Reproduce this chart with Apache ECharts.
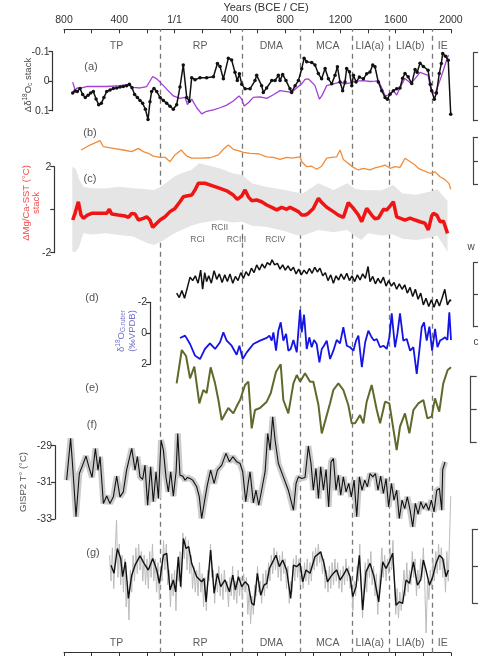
<!DOCTYPE html>
<html>
<head>
<meta charset="utf-8">
<title>Records BCE / CE</title>
<script src="https://cdn.jsdelivr.net/npm/echarts@6/dist/echarts.min.js"></script>
<style>
html, body { margin: 0; padding: 0; background: #fff; }
#chart { width: 478px; height: 656px; }
</style>
</head>
<body>
<div id="chart"></div>
<script>
// periods and their limits (years, negative = BCE)
var periodNames = ['TP', 'RP', 'DMA', 'MCA', 'LIA(a)', 'LIA(b)', 'IE'];
var periodMid = [-420, 185, 700, 1108, 1412, 1705, 1940];
var periodBounds = [-106, 488, 912, 1284, 1552, 1862];

// (a) δ18O stack (black) and model curve (purple)
var d18oStack = [[-737,0.040],[-720,0.033],[-704,0.035],[-684,0.025],[-665,0.045],[-646,0.055],[-626,0.048],[-607,0.040],[-588,0.035],[-568,0.060],[-549,0.080],[-530,0.075],[-511,0.055],[-491,0.035],[-467,0.030],[-443,0.025],[-419,0.023],[-395,0.020],[-371,0.018],[-347,0.015],[-327,0.010],[-308,0.022],[-289,0.045],[-269,0.055],[-250,0.065],[-231,0.075],[-211,0.095],[-192,0.130],[-178,0.070],[-166,0.035],[-149,0.025],[-129,0.035],[-105,0.055],[-81,0.065],[-57,0.075],[-33,0.085],[-9,0.095],[15,0.080],[39,0.020],[63,-0.055],[88,0.055],[107,0.068],[124,-0.012],[148,-0.005],[184,-0.012],[232,-0.012],[281,-0.015],[310,-0.060],[329,-0.050],[353,-0.008],[389,-0.078],[413,-0.072],[437,-0.030],[454,-0.002],[469,-0.025],[486,0.010],[510,0.026],[546,0.026],[582,-0.002],[594,-0.020],[630,0.015],[642,0.038],[666,0.023],[703,-0.002],[727,-0.002],[751,-0.020],[763,-0.002],[782,-0.023],[806,-0.002],[835,0.026],[847,0.038],[872,0.015],[896,-0.002],[920,-0.042],[937,-0.078],[956,-0.066],[992,-0.063],[1016,-0.055],[1040,-0.026],[1064,-0.008],[1089,-0.043],[1113,-0.008],[1137,0.009],[1161,-0.020],[1178,-0.049],[1197,0.003],[1216,0.032],[1233,0.003],[1245,-0.043],[1265,-0.032],[1282,0.015],[1294,-0.020],[1313,0.003],[1337,-0.014],[1366,-0.008],[1390,-0.025],[1414,-0.031],[1434,-0.055],[1450,-0.049],[1474,0.003],[1499,0.032],[1523,0.055],[1540,0.061],[1559,0.044],[1583,0.032],[1607,0.026],[1631,0.023],[1650,-0.010],[1667,-0.026],[1690,-0.015],[1716,0.008],[1740,-0.040],[1755,-0.030],[1776,-0.061],[1800,-0.050],[1834,-0.037],[1850,0.010],[1860,0.032],[1879,0.061],[1895,0.040],[1915,-0.026],[1930,-0.060],[1940,-0.094],[1960,-0.085],[1980,-0.071],[1998,0.112]];
var d18oModel = [[-737,0.003],[-720,0.030],[-704,0.023],[-672,0.023],[-636,0.018],[-588,0.018],[-491,0.018],[-395,0.015],[-347,0.012],[-298,0.021],[-250,0.023],[-202,0.018],[-158,-0.016],[-129,-0.008],[-105,0.003],[-57,0.027],[-9,0.050],[39,0.058],[76,0.055],[93,0.079],[124,0.061],[160,0.090],[196,0.111],[232,0.102],[281,0.097],[329,0.090],[377,0.081],[425,0.067],[466,0.050],[486,0.061],[503,0.084],[534,0.073],[570,0.055],[618,0.053],[667,0.058],[715,0.046],[763,0.032],[811,0.035],[847,0.038],[872,0.027],[896,0.018],[920,0.009],[944,-0.006],[968,-0.008],[992,0.003],[1016,0.015],[1048,0.061],[1065,0.050],[1101,0.015],[1149,0.009],[1197,0.003],[1233,0.009],[1270,0.006],[1318,0.000],[1366,-0.002],[1414,0.001],[1450,0.000],[1475,-0.002],[1499,0.023],[1523,0.049],[1547,0.047],[1583,0.032],[1607,0.047],[1631,0.022],[1667,-0.009],[1711,0.008],[1776,-0.030],[1834,-0.020],[1856,0.032],[1885,0.042],[1928,-0.013],[1964,-0.065],[1981,-0.089]];

// (b) orange record (scale bar units 0..2)
var recordB = [[-677,1.46],[-612,1.67],[-540,1.86],[-515,1.60],[-443,1.53],[-371,1.46],[-310,1.39],[-262,1.53],[-226,1.39],[-190,1.32],[-154,1.20],[-105,1.15],[-69,1.15],[-33,0.96],[3,1.25],[47,1.46],[88,1.20],[124,1.11],[184,1.11],[256,1.13],[317,1.25],[353,1.49],[389,1.67],[425,1.49],[461,1.43],[498,1.36],[546,1.32],[606,1.30],[666,1.17],[715,1.15],[763,1.06],[811,1.15],[847,1.11],[884,1.15],[908,1.17],[920,0.96],[956,0.75],[992,0.77],[1028,0.64],[1064,0.77],[1101,1.11],[1137,1.15],[1173,1.17],[1197,1.46],[1221,1.06],[1257,0.89],[1294,0.72],[1330,0.61],[1366,0.68],[1414,0.61],[1450,0.70],[1487,0.75],[1523,0.82],[1559,0.68],[1595,0.75],[1631,0.72],[1667,1.11],[1680,1.06],[1716,0.92],[1739,0.82],[1764,0.68],[1800,0.58],[1848,0.47],[1885,0.53],[1921,0.32],[1957,0.20],[1985,0.04],[1998,-0.21]];

// (c) Mg/Ca-SST stack (°C) and its band [year, low, high]
var sstStack = [[-737,-0.48],[-720,-0.17],[-696,0.37],[-677,-0.25],[-660,-0.40],[-631,-0.25],[-600,-0.17],[-539,-0.17],[-491,-0.17],[-472,0.02],[-455,-0.20],[-407,-0.25],[-359,-0.29],[-334,-0.36],[-310,-0.17],[-286,-0.20],[-262,-0.48],[-226,-0.40],[-202,-0.33],[-178,-0.48],[-158,-0.82],[-129,-0.63],[-105,-0.48],[-69,-0.33],[-33,-0.09],[3,0.06],[39,0.37],[64,0.60],[88,0.64],[124,0.68],[148,0.92],[172,1.23],[184,1.30],[220,1.23],[281,1.10],[329,0.99],[377,0.88],[425,0.68],[454,0.48],[486,0.64],[510,0.92],[534,0.60],[558,0.42],[594,0.45],[630,0.37],[667,0.22],[703,0.11],[739,-0.01],[775,0.11],[811,0.02],[835,0.11],[872,-0.01],[896,-0.09],[920,-0.25],[944,-0.25],[968,-0.17],[1004,0.06],[1041,0.53],[1065,0.33],[1101,0.11],[1149,-0.09],[1185,-0.25],[1221,-0.36],[1257,0.33],[1294,0.06],[1330,-0.25],[1354,-0.56],[1390,0.06],[1426,-0.25],[1450,-0.42],[1475,-0.39],[1511,0.02],[1535,-0.01],[1559,0.17],[1583,0.37],[1607,-0.33],[1631,-0.39],[1667,-0.48],[1704,-0.39],[1740,-0.48],[1776,-0.56],[1812,-0.63],[1836,-0.94],[1860,-0.30],[1872,-0.17],[1897,-0.25],[1921,-0.56],[1945,-0.53],[1975,-1.10]];
var sstBand = [[-740,-1.95,2.00],[-715,-1.95,1.90],[-690,-1.72,1.40],[-660,-1.10,1.07],[-600,-1.15,1.00],[-500,-1.10,0.99],[-400,-1.18,1.07],[-300,-1.25,1.00],[-200,-1.55,0.95],[-150,-1.64,0.92],[-100,-1.49,1.07],[0,-1.10,1.55],[50,-0.94,1.69],[120,-0.75,1.85],[180,-0.63,2.16],[250,-0.55,2.05],[330,-0.48,1.92],[420,-0.60,1.69],[490,-0.56,1.61],[560,-0.75,1.23],[660,-0.79,1.07],[800,-1.00,0.92],[880,-1.18,0.80],[930,-1.20,0.76],[1040,-0.94,1.23],[1150,-1.05,0.92],[1250,-0.94,1.23],[1300,-1.20,0.99],[1350,-1.41,0.92],[1400,-1.10,0.90],[1500,-1.20,0.90],[1580,-1.15,1.15],[1650,-1.35,0.75],[1750,-1.41,0.70],[1850,-1.30,0.85],[1900,-1.20,0.95],[1975,-1.95,0.40]];
var rcNames = ['RCI', 'RCII', 'RCIII', 'RCIV'];
var rcMarks = [[167,-1.41],[326,-0.84],[447,-1.41],[729,-1.41]];

// (d) black record (scale bar units) and G. ruber δ18O (‰ VPDB)
var recordD = [[15,1.05],[34,0.91],[53,1.13],[72,0.89],[93,1.23],[112,1.55],[131,1.44],[150,1.59],[170,1.36],[189,1.77],[203,1.17],[218,1.69],[232,1.41],[247,1.59],[266,1.36],[286,1.75],[305,1.48],[324,1.65],[344,1.38],[363,1.62],[382,1.41],[401,1.65],[421,1.36],[440,1.57],[459,1.44],[479,1.69],[498,1.51],[517,1.72],[536,1.59],[556,1.83],[575,1.69],[594,1.93],[614,1.77],[633,1.96],[652,1.83],[671,2.00],[691,1.93],[705,2.09],[724,1.93],[744,1.98],[763,1.80],[782,1.93],[801,1.77],[821,1.90],[840,1.75],[860,1.86],[879,1.65],[898,1.80],[917,1.62],[937,1.77],[956,1.65],[975,1.82],[995,1.67],[1014,1.86],[1033,1.71],[1052,1.83],[1072,1.59],[1091,1.69],[1110,1.44],[1130,1.62],[1149,1.36],[1168,1.59],[1187,1.46],[1204,1.65],[1226,1.48],[1246,1.67],[1265,1.44],[1284,1.59],[1303,1.41],[1323,1.62],[1342,1.46],[1361,1.65],[1380,1.51],[1400,1.88],[1414,1.41],[1434,1.57],[1453,1.34],[1472,1.51],[1491,1.36],[1511,1.55],[1530,1.27],[1549,1.44],[1569,1.27],[1588,1.38],[1607,1.17],[1626,1.34],[1646,1.17],[1665,1.31],[1684,1.05],[1704,1.23],[1723,0.94],[1742,1.17],[1762,0.86],[1781,1.05],[1800,0.68],[1819,0.89],[1839,0.63],[1858,0.84],[1877,0.61],[1897,0.86],[1916,0.65],[1935,0.89],[1955,1.17],[1974,0.68],[1993,0.84],[2000,0.80]];
var ruberD18O = [[39,0.30],[76,0.15],[112,0.69],[148,1.44],[184,1.66],[220,1.01],[256,0.65],[293,1.01],[329,0.58],[353,-0.06],[377,0.47],[413,0.80],[449,1.38],[469,0.80],[493,1.66],[522,1.23],[570,0.69],[618,0.47],[667,0.30],[686,0.15],[703,0.47],[715,-0.06],[734,1.12],[751,-0.17],[768,-0.71],[787,0.47],[807,0.04],[823,1.12],[840,1.01],[860,0.43],[884,1.23],[908,-1.51],[920,-0.06],[937,-1.20],[956,1.01],[975,0.26],[992,0.90],[1009,0.43],[1028,0.69],[1048,1.87],[1065,1.01],[1081,0.80],[1101,0.47],[1125,1.66],[1149,1.12],[1173,0.43],[1197,0.65],[1221,-0.39],[1246,0.80],[1270,0.90],[1294,1.12],[1313,0.47],[1330,0.15],[1355,2.19],[1379,0.58],[1402,-0.17],[1426,0.26],[1443,0.47],[1463,0.37],[1487,0.90],[1511,0.80],[1535,1.01],[1554,0.26],[1571,-1.29],[1595,0.90],[1612,0.04],[1631,-1.29],[1655,0.47],[1680,0.37],[1704,1.12],[1728,0.90],[1752,2.62],[1771,1.12],[1788,-0.39],[1805,-0.71],[1824,0.47],[1844,-0.43],[1863,1.12],[1885,-0.28],[1902,0.90],[1921,0.47],[1940,0.37],[1957,0.26],[1974,0.43],[1988,-1.35],[2000,0.43]];

// (e) olive record (scale bar units)
var recordE = [[15,1.78],[52,2.78],[83,2.60],[112,1.93],[143,2.28],[179,1.18],[208,1.58],[232,1.49],[261,2.26],[293,1.78],[317,1.28],[341,0.68],[389,1.04],[425,0.88],[454,1.13],[474,1.28],[510,1.73],[534,1.83],[558,0.43],[582,0.98],[618,1.04],[667,1.23],[696,1.49],[734,2.13],[768,2.35],[787,1.28],[823,0.88],[860,1.78],[884,2.03],[908,1.83],[944,2.08],[980,1.83],[1004,1.83],[1041,1.13],[1065,0.28],[1125,1.18],[1149,1.58],[1185,1.78],[1221,1.58],[1257,1.13],[1282,0.58],[1306,0.58],[1342,0.83],[1366,0.58],[1390,1.23],[1426,1.73],[1463,0.98],[1487,0.58],[1523,1.23],[1554,1.18],[1571,0.73],[1607,-0.22],[1631,0.48],[1667,0.88],[1699,0.28],[1728,0.98],[1764,1.18],[1800,1.28],[1829,0.73],[1860,0.78],[1884,1.33],[1915,0.93],[1944,1.78],[1976,2.18],[2000,2.26]];

// (f) GISP2 temperature (°C)
var gisp2T = [[-781,-30.88],[-769,-30.92],[-752,-28.60],[-737,-30.15],[-713,-32.88],[-689,-30.52],[-665,-30.06],[-641,-29.57],[-617,-30.24],[-597,-30.73],[-573,-29.15],[-554,-30.33],[-539,-29.60],[-515,-32.15],[-491,-31.75],[-467,-32.15],[-443,-31.79],[-419,-30.66],[-395,-31.79],[-371,-31.52],[-347,-30.33],[-310,-29.15],[-286,-30.33],[-269,-29.60],[-250,-30.70],[-231,-30.84],[-214,-30.06],[-195,-32.25],[-173,-30.15],[-154,-32.06],[-134,-30.42],[-117,-31.88],[-98,-28.69],[-81,-29.24],[-62,-30.73],[-45,-31.52],[-28,-30.42],[-9,-31.75],[11,-30.42],[23,-28.33],[39,-30.61],[59,-30.66],[76,-30.88],[93,-30.73],[112,-30.79],[131,-30.88],[160,-31.24],[179,-31.79],[196,-32.97],[218,-31.97],[237,-31.15],[261,-30.33],[286,-31.06],[310,-30.33],[341,-30.06],[372,-29.42],[397,-29.88],[421,-29.60],[450,-29.88],[474,-29.97],[493,-30.42],[515,-32.06],[534,-30.97],[546,-30.42],[570,-32.12],[589,-31.43],[609,-32.25],[630,-31.43],[655,-30.42],[674,-28.33],[691,-29.24],[710,-27.42],[727,-28.69],[751,-29.97],[787,-30.70],[823,-31.43],[860,-32.52],[879,-31.06],[896,-30.70],[920,-30.79],[944,-30.73],[968,-29.02],[987,-29.97],[1004,-31.43],[1023,-30.24],[1041,-31.88],[1057,-30.15],[1077,-31.43],[1096,-30.30],[1115,-32.34],[1132,-29.88],[1149,-29.70],[1168,-31.43],[1185,-30.61],[1202,-31.70],[1221,-30.70],[1241,-31.52],[1260,-31.06],[1279,-31.79],[1299,-30.88],[1318,-32.88],[1337,-30.70],[1356,-31.43],[1376,-30.88],[1395,-31.24],[1414,-30.52],[1434,-30.70],[1453,-30.52],[1472,-31.43],[1491,-30.66],[1511,-31.61],[1530,-30.79],[1549,-32.34],[1569,-31.06],[1588,-31.97],[1607,-31.43],[1626,-32.97],[1646,-31.97],[1665,-32.43],[1684,-31.79],[1704,-32.52],[1723,-33.43],[1742,-32.15],[1762,-32.74],[1781,-32.06],[1800,-32.43],[1819,-32.15],[1839,-32.52],[1858,-31.97],[1877,-32.61],[1897,-31.43],[1916,-31.33],[1933,-32.52],[1940,-30.30],[1957,-29.88]];

// (g) record (scale bar units): smoothed (black) and raw (grey)
var recordG = [[-460,1.03],[-438,0.81],[-414,1.48],[-390,1.21],[-376,0.72],[-356,1.12],[-334,0.13],[-310,0.76],[-286,1.03],[-250,1.28],[-221,1.08],[-190,0.90],[-158,1.21],[-129,0.90],[-110,0.54],[-81,1.30],[-57,1.35],[-33,0.36],[-9,0.63],[8,0.31],[27,1.26],[44,0.45],[64,1.75],[83,1.48],[102,1.53],[124,1.08],[160,0.72],[196,0.58],[213,0.67],[228,0.04],[261,1.44],[286,0.27],[310,0.81],[334,0.45],[365,0.63],[397,0.31],[421,0.76],[440,0.36],[462,0.72],[486,0.45],[510,0.58],[534,0.49],[558,0.00],[575,-0.05],[599,0.81],[623,0.22],[647,0.49],[667,0.54],[686,0.94],[710,1.12],[734,1.30],[758,0.99],[782,1.17],[811,0.90],[840,0.13],[860,1.03],[884,0.99],[908,1.08],[927,0.58],[951,0.90],[980,0.81],[1016,1.26],[1057,1.39],[1081,1.08],[1106,0.58],[1130,0.72],[1149,0.81],[1173,0.90],[1197,0.63],[1221,0.76],[1246,0.94],[1270,0.72],[1289,0.18],[1313,0.45],[1337,1.30],[1361,-0.18],[1385,0.85],[1414,1.08],[1443,0.72],[1477,0.04],[1506,1.12],[1530,0.94],[1554,1.12],[1578,1.35],[1602,-0.05],[1626,0.04],[1650,0.00],[1675,0.63],[1699,0.54],[1728,1.12],[1757,0.49],[1781,0.63],[1800,1.17],[1819,0.90],[1844,0.49],[1868,0.72],[1892,1.08],[1916,1.30],[1940,1.21],[1964,0.72],[1981,0.90]];
var recordGRaw = [[-470,1.30],[-460,0.60],[-450,1.50],[-440,0.40],[-430,1.40],[-420,2.25],[-410,0.70],[-400,1.60],[-390,0.50],[-380,1.30],[-370,0.30],[-360,1.20],[-350,-0.10],[-340,0.60],[-330,-0.45],[-320,0.90],[-310,0.30],[-300,1.30],[-290,0.60],[-280,1.50],[-270,0.80],[-260,1.60],[-250,0.90],[-240,1.40],[-230,0.60],[-220,1.30],[-210,0.50],[-200,1.20],[-190,0.40],[-180,1.40],[-170,0.70],[-160,1.60],[-150,0.60],[-140,1.20],[-130,0.30],[-120,1.10],[-110,0.10],[-100,1.00],[-90,0.60],[-80,1.70],[-70,0.90],[-60,1.60],[-50,0.50],[-40,0.90],[-30,-0.10],[-20,0.80],[-10,0.20],[0,0.90],[10,-0.20],[20,1.00],[30,0.60],[40,1.40],[50,0.40],[60,1.90],[70,1.20],[80,1.80],[90,0.90],[100,1.70],[110,0.80],[120,1.30],[130,0.40],[140,1.00],[150,0.30],[160,0.90],[170,0.20],[180,1.10],[190,0.30],[200,0.80],[210,-0.10],[220,0.70],[230,-0.20],[240,0.90],[250,0.60],[260,1.60],[270,0.70],[280,0.90],[290,0.00],[300,0.80],[310,0.30],[320,1.00],[330,0.20],[340,0.80],[350,0.10],[360,0.90],[370,0.30],[380,0.60],[390,-0.10],[400,0.70],[410,0.20],[420,1.00],[430,0.10],[440,0.60],[450,0.00],[460,0.90],[470,0.20],[480,0.70],[490,0.10],[500,0.80],[510,0.30],[520,0.70],[530,-0.30],[540,0.40],[550,-0.55],[560,0.20],[570,-0.30],[580,0.50],[590,0.20],[600,1.00],[610,0.30],[620,0.60],[630,0.00],[640,0.80],[650,0.20],[660,0.90],[670,0.40],[680,1.10],[690,0.60],[700,1.30],[710,0.80],[720,1.50],[730,0.90],[740,1.40],[750,0.70],[760,1.30],[770,0.60],[780,1.40],[790,0.80],[800,1.20],[810,0.40],[820,1.00],[830,0.00],[840,0.60],[850,0.30],[860,1.20],[870,0.60],[880,1.30],[890,0.70],[900,1.20],[910,0.50],[920,1.00],[930,0.40],[940,1.10],[950,0.60],[960,1.20],[970,0.50],[980,1.10],[990,0.60],[1000,1.40],[1010,0.90],[1020,1.50],[1030,1.00],[1040,1.60],[1050,1.10],[1060,1.40],[1070,0.80],[1080,1.20],[1090,0.40],[1100,0.90],[1110,0.30],[1120,1.00],[1130,0.40],[1140,1.10],[1150,0.50],[1160,1.20],[1170,0.60],[1180,1.10],[1190,0.40],[1200,0.90],[1210,0.30],[1220,1.00],[1230,0.50],[1240,1.20],[1250,0.60],[1260,1.00],[1270,0.40],[1280,0.70],[1290,-0.20],[1300,0.60],[1310,0.20],[1320,1.00],[1330,0.60],[1340,1.60],[1350,0.40],[1360,-0.40],[1370,0.60],[1380,1.10],[1390,0.30],[1400,1.20],[1410,0.70],[1420,1.40],[1430,0.50],[1440,1.00],[1450,0.20],[1460,0.80],[1470,-0.30],[1480,0.50],[1490,0.90],[1500,1.50],[1510,0.70],[1520,1.30],[1530,0.60],[1540,1.20],[1550,0.80],[1560,1.50],[1570,0.90],[1580,1.70],[1590,0.60],[1600,-0.30],[1610,0.40],[1620,-0.40],[1630,0.30],[1640,-0.20],[1650,0.40],[1660,0.90],[1670,0.20],[1680,1.10],[1690,0.30],[1700,0.90],[1710,0.50],[1720,1.40],[1730,0.70],[1740,1.20],[1750,0.20],[1760,0.90],[1770,0.40],[1780,1.20],[1790,0.70],[1800,1.50],[1810,0.50],[1820,-0.80],[1830,0.60],[1840,0.10],[1850,0.90],[1860,0.40],[1870,1.20],[1880,0.60],[1890,1.40],[1900,0.80],[1910,1.60],[1920,0.90],[1930,1.50],[1940,0.70],[1950,1.20],[1960,0.30],[1970,1.40],[1980,0.60],[1990,1.80],[1998,2.90]];

var FONT = '"Liberation Sans", Arial, sans-serif';
var AX = '#333';
var myChart = echarts.init(document.getElementById('chart'));

// every panel shares the same horizontal placement
function grid(top, height) {
	return { left: 64, right: 27, top: top, height: height, outerBoundsMode: 'none' };
}
var grids = [
	{ left: 64, right: 27, top: 29.3, bottom: 3.3, outerBoundsMode: 'none' }, // frame
	grid(51.7, 59),    // (a)
	grid(52.7, 68),    // (a) scale bar
	grid(137.3, 47),   // (b)
	grid(166.7, 86),   // (c)
	grid(262.7, 64),   // (d) black
	grid(302.3, 62),   // (d) blue
	grid(376, 66.7),   // (e)
	grid(445.7, 73.3), // (f)
	grid(529.3, 74)    // (g)
];

var xAxes = [{
	gridIndex: 0, type: 'value', position: 'top', min: -800, max: 2000, interval: 200,
	axisLine: { onZero: false, lineStyle: { color: AX, width: 1 } },
	axisTick: { inside: true, length: 4, lineStyle: { color: AX } },
	axisLabel: {
		fontFamily: FONT, fontSize: 10.5, color: AX, margin: 4,
		formatter: function(v) {
			if (v % 400 !== 0) return '';
			if (v === 0) return '1/1';
			return String(Math.abs(v));
		}
	},
	splitLine: { show: false }
}, {
	gridIndex: 0, type: 'value', position: 'bottom', min: -800, max: 2000, interval: 200,
	axisLine: { onZero: false, lineStyle: { color: AX, width: 1 } },
	axisTick: { length: 5, lineStyle: { color: AX } },
	axisLabel: { show: false },
	splitLine: { show: false }
}];
for (var g = 1; g < grids.length; g++) {
	xAxes.push({ gridIndex: g, type: 'value', min: -800, max: 2000, show: false, axisLine: { onZero: false } });
}

// left axes with numbers
function leftAxis(gi, min, max, interval, offset, inverse, fmt) {
	return {
		gridIndex: gi, type: 'value', position: 'left', offset: offset,
		min: min, max: max, interval: interval, inverse: inverse,
		axisLine: { show: true, onZero: false, lineStyle: { color: AX, width: 1.2 } },
		axisTick: { show: true, length: 4, lineStyle: { color: AX, width: 1.2 } },
		axisLabel: { fontFamily: FONT, fontSize: 10.5, color: AX, margin: 3, formatter: fmt },
		splitLine: { show: false }
	};
}
// right scale bars, labels cut by the figure edge
function scaleBar(gi, offset) {
	return {
		gridIndex: gi, type: 'value', position: 'right', offset: offset,
		min: 0, max: 2, interval: 1,
		axisLine: { show: true, onZero: false, lineStyle: { color: '#444', width: 1.2 } },
		axisTick: { show: true, length: 6, lineStyle: { color: '#444', width: 1.2 } },
		axisLabel: { show: false },
		splitLine: { show: false }
	};
}
var yAxes = [
	{ gridIndex: 0, type: 'value', min: 0, max: 1, show: false, axisLine: { onZero: false } },
	leftAxis(1, -0.1, 0.1, 0.1, 11.5, true, function(v) { return v === 0 ? '0' : v.toFixed(1); }),
	scaleBar(2, 22.3),
	scaleBar(3, 22.3),
	leftAxis(4, -2, 2, 2, 9.7, false, function(v) { return v === 0 ? '' : String(v); }),
	scaleBar(5, 22.3),
	leftAxis(6, -2, 2, 2, -86, true, function(v) { return String(v); }),
	scaleBar(7, 19.7),
	leftAxis(8, -33, -29, 2, 9, false, function(v) { return String(v); }),
	scaleBar(9, 21.7)
];

function line(gi, data, color, width, z) {
	return {
		type: 'line', xAxisIndex: gi + 1, yAxisIndex: gi, data: data,
		symbol: 'none', showSymbol: false, clip: false, silent: true, z: z || 3,
		lineStyle: { color: color, width: width }, itemStyle: { color: color }
	};
}

var series = [];
// frame: period limits and names
series.push({
	type: 'scatter', xAxisIndex: 0, yAxisIndex: 0, silent: true, symbolSize: 0,
	data: periodMid.map(function(y) { return [y, 0.9732]; }),
	label: { show: true, position: 'inside', fontFamily: FONT, fontSize: 10.5, color: '#333',
		formatter: function(p) { return periodNames[p.dataIndex]; } },
	markLine: {
		silent: true, symbol: ['none', 'none'], label: { show: false }, z: 1,
		lineStyle: { type: [5, 4], color: '#777', width: 1.3 },
		data: periodBounds.map(function(y) { return { xAxis: y }; })
	}
});
series.push({
	type: 'scatter', xAxisIndex: 0, yAxisIndex: 0, silent: true, symbolSize: 0,
	data: periodMid.map(function(y) { return [y, 0.0156]; }),
	label: { show: true, position: 'inside', fontFamily: FONT, fontSize: 10.5, color: '#333',
		formatter: function(p) { return periodNames[p.dataIndex]; } }
});

// (a)
series.push(line(1, d18oModel, '#a23fd6', 1.3, 3));
var sA = line(1, d18oStack, '#111', 1.5, 4);
sA.symbol = 'circle'; sA.showSymbol = true; sA.symbolSize = 3.5;
series.push(sA);
// (b)
series.push(line(3, recordB, '#f08c3a', 1.3));
// (c) band drawn as one polygon through the axes
series.push({
	type: 'custom', coordinateSystem: 'cartesian2d', xAxisIndex: 5, yAxisIndex: 4,
	data: sstBand, silent: true, z: 2, clip: false,
	renderItem: function(params, api) {
		if (params.dataIndex !== 0) return null;
		var pts = [];
		for (var i = 0; i < sstBand.length; i++) pts.push(api.coord([sstBand[i][0], sstBand[i][2]]));
		for (var j = sstBand.length - 1; j >= 0; j--) pts.push(api.coord([sstBand[j][0], sstBand[j][1]]));
		return { type: 'polygon', shape: { points: pts }, style: { fill: '#e5e5e5' } };
	}
});
series.push(line(4, sstStack, '#f01414', 3.5, 4));
series.push({
	type: 'scatter', xAxisIndex: 5, yAxisIndex: 4, silent: true, symbolSize: 0, data: rcMarks,
	label: { show: true, position: 'inside', fontFamily: FONT, fontSize: 8.5, color: '#444',
		formatter: function(p) { return rcNames[p.dataIndex]; } }
});
// (d)
series.push(line(5, recordD, '#111', 1.5));
series.push(line(6, ruberD18O, '#1414e6', 1.8));
// (e)
series.push(line(7, recordE, '#5d6a2b', 2));
// (f)
series.push(line(8, gisp2T, '#cccccc', 6, 2));
series.push(line(8, gisp2T, '#111', 1.1, 3));
// (g)
series.push(line(9, recordGRaw, '#bcbcbc', 1, 2));
series.push(line(9, recordG, '#111', 1.4, 3));

function vText(x, y, text, color, rich) {
	return {
		type: 'text', x: x, y: y, rotation: Math.PI / 2, silent: true,
		style: { text: text, fill: color, fontFamily: FONT, fontSize: 9.5,
			align: 'center', verticalAlign: 'middle', rich: rich }
	};
}
function richFor(color) {
	return {
		n: { fontFamily: FONT, fontSize: 9.5, fill: color },
		s: { fontFamily: FONT, fontSize: 6.5, fill: color, padding: [0, 0, 5, 0] },
		b: { fontFamily: FONT, fontSize: 6.5, fill: color, padding: [5, 0, 0, 0] }
	};
}
function tag(x, y, text) {
	return {
		type: 'text', x: x, y: y, silent: true,
		style: { text: text, fill: '#555', fontFamily: FONT, fontSize: 11, align: 'center', verticalAlign: 'middle' }
	};
}

var option = {
	animation: false,
	backgroundColor: '#fff',
	grid: grids,
	xAxis: xAxes,
	yAxis: yAxes,
	series: series,
	graphic: [
		{ type: 'text', x: 266, y: 8, silent: true, style: { text: 'Years (BCE / CE)', fill: AX, fontFamily: FONT, fontSize: 11, align: 'center', verticalAlign: 'middle' } },
		vText(28, 85, '{n|Δδ}{s|18}{n|O}{b|c}{n| stack}', '#444', richFor('#444')),
		vText(31, 203, 'ΔMg/Ca-SST (°C)\nstack', '#ef4b4b', null),
		vText(126, 331, '{n|δ}{s|18}{n|O}{b|G.ruber}\n{n|(‰VPDB)}', '#7272cc', richFor('#7272cc')),
		vText(23, 482, 'GISP2 T° (°C)', '#555', null),
		tag(91, 67, '(a)'), tag(90, 133, '(b)'), tag(90, 179, '(c)'),
		tag(92, 298, '(d)'), tag(92, 388, '(e)'), tag(92, 425, '(f)'), tag(93, 553, '(g)'),
		{ type: 'text', x: 471, y: 247, silent: true, style: { text: 'w', fill: '#444', fontFamily: FONT, fontSize: 10, align: 'center', verticalAlign: 'middle' } },
		{ type: 'text', x: 476, y: 342, silent: true, style: { text: 'c', fill: '#444', fontFamily: FONT, fontSize: 10, align: 'center', verticalAlign: 'middle' } }
	]
};

myChart.setOption(option);
</script>
</body>
</html>
